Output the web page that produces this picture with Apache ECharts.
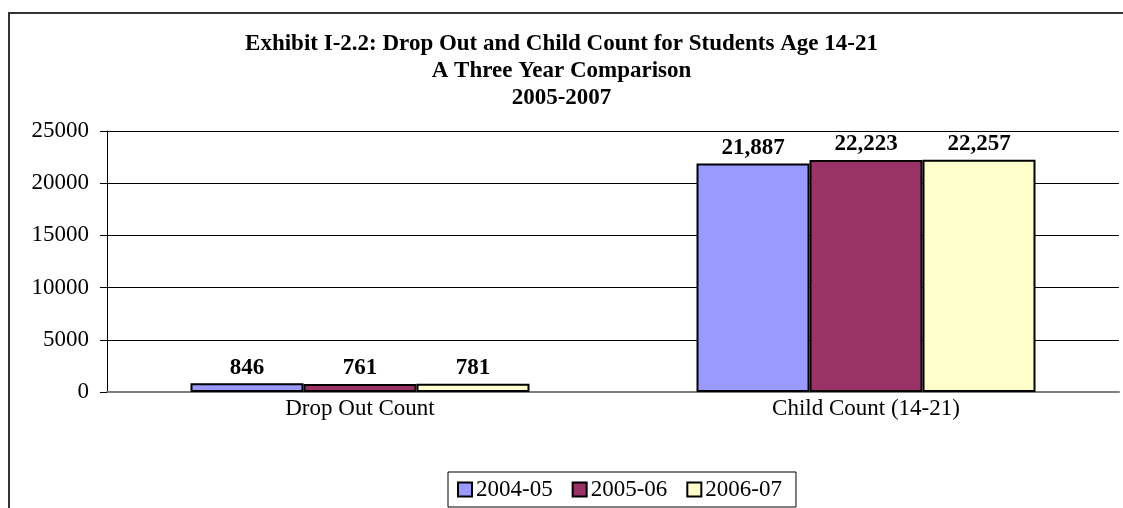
<!DOCTYPE html>
<html>
<head>
<meta charset="utf-8">
<script src="https://cdn.jsdelivr.net/npm/echarts@6/dist/echarts.min.js"></script>
<style>
  html, body { margin: 0; padding: 0; background: #fff; }
  #main { width: 1123px; height: 508px; }
</style>
</head>
<body>
<div id="main"></div>
<script>
const categories = ['Drop Out Count', 'Child Count (14-21)'];
const years = ['2004-05', '2005-06', '2006-07'];
const values0405 = [846, 21887];
const values0506 = [761, 22223];
const values0607 = [781, 22257];
const colors = ['#9999FF', '#993366', '#FFFFCC'];
const yTicks = [0, 5000, 10000, 15000, 20000, 25000];

const serif = "'Liberation Serif', 'Times New Roman', serif";

const chart = echarts.init(document.getElementById('main'));

// one bar series per school year
const seriesData = [values0405, values0506, values0607];
const series = years.map((name, i) => ({
  name: name,
  type: 'bar',
  data: seriesData[i],
  barWidth: 113,
  barGap: '0%',
  itemStyle: {
    color: colors[i],
    borderColor: '#000',
    borderWidth: 2
  },
  label: {
    show: true,
    position: 'top',
    distance: 4,
    color: '#000',
    fontFamily: serif,
    fontWeight: 'bold',
    fontSize: 23,
    formatter: p => p.value.toLocaleString('en-US')
  }
}));

chart.setOption({
  animation: false,
  title: {
    text: 'Exhibit I-2.2: Drop Out and Child Count for Students Age 14-21\nA Three Year Comparison\n2005-2007',
    left: 'center',
    top: 26,
    textStyle: {
      fontFamily: serif,
      fontWeight: 'bold',
      fontSize: 23,
      lineHeight: 27,
      color: '#000'
    }
  },
  legend: {
    data: years,
    left: 448,
    bottom: 1,
    padding: [6, 14, 6, 9],
    itemGap: 19,
    itemWidth: 14,
    itemHeight: 14,
    borderColor: '#000',
    borderWidth: 1,
    icon: 'rect',
    textStyle: {
      fontFamily: serif,
      fontSize: 23,
      color: '#000',
      padding: [0, 0, 0, -1]
    }
  },
  graphic: [{
    type: 'rect',
    shape: { x: 9, y: 13, width: 1300, height: 700 },
    style: { fill: null, stroke: '#333', lineWidth: 2 },
    silent: true
  }],
  grid: {
    left: 107,
    right: 4,
    top: 131,
    bottom: 116
  },
  xAxis: {
    type: 'category',
    data: categories,
    axisLine: { lineStyle: { color: '#808080', width: 2 } },
    axisTick: { length: 7, lineStyle: { color: '#333' } },
    axisLabel: {
      margin: 5,
      color: '#000',
      fontFamily: serif,
      fontSize: 23
    }
  },
  yAxis: {
    type: 'value',
    min: yTicks[0],
    max: yTicks[yTicks.length - 1],
    interval: 5000,
    axisLine: { show: true, lineStyle: { color: '#000' } },
    axisTick: { show: true, length: 7, lineStyle: { color: '#000' } },
    splitLine: { lineStyle: { color: '#000', width: 1 } },
    axisLabel: {
      margin: 18,
      color: '#000',
      fontFamily: serif,
      fontSize: 23,
      formatter: v => String(v)
    }
  },
  series: series
});
</script>
</body>
</html>
